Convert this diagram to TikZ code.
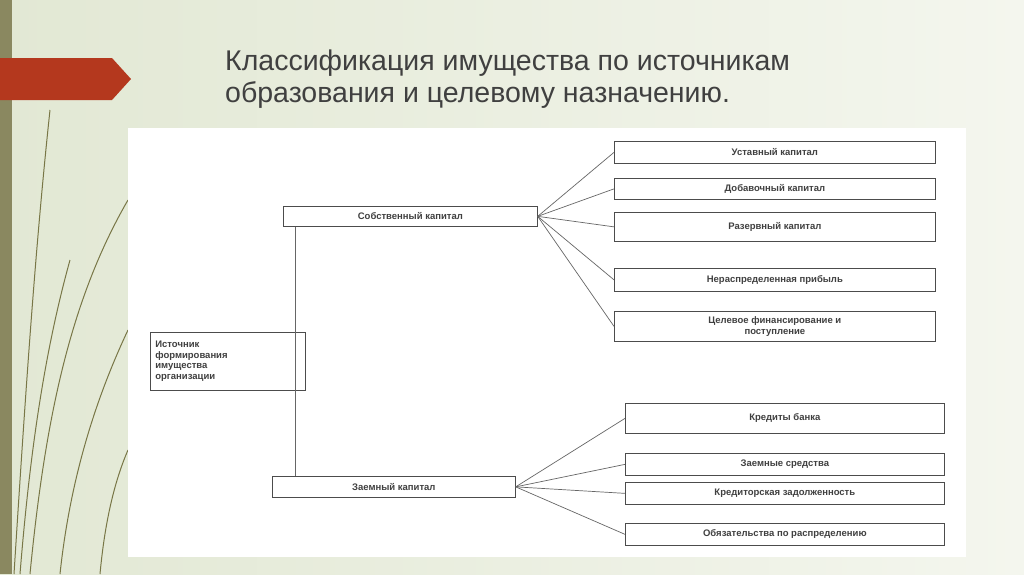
\documentclass[tikz,border=0pt]{standalone}
\usepackage{fontspec}
\setmainfont{Liberation Sans}
\begin{document}
\begin{tikzpicture}[x=1pt,y=-1pt,
  bx/.style={draw=black!70,line width=0.7pt,fill=white,inner sep=0pt,font=\fontsize{9.5}{10.5}\selectfont\bfseries,text=black!75,align=center},
  ln/.style={draw=black!60,line width=0.7pt},
  deco/.style={color={rgb,255:red,120;green,118;blue,70},line width=1pt}]
\useasboundingbox (0,0) rectangle (1024,574);
\shade[left color={rgb,255:red,226;green,232;blue,212},right color={rgb,255:red,244;green,246;blue,238}] (0,0) rectangle (1024,574);
\fill[color={rgb,255:red,138;green,136;blue,96}] (0,0) rectangle (12,574);
\draw[deco] (14,574) .. controls (25,400) and (35,250) .. (50,110);
\draw[deco] (30,574) .. controls (45,420) and (70,300) .. (128,200);
\draw[deco] (60,574) .. controls (70,480) and (95,400) .. (128,330);
\draw[deco] (100,574) .. controls (105,520) and (115,480) .. (128,450);
\draw[deco] (20,574) .. controls (30,450) and (45,350) .. (70,260);
\fill[color={rgb,255:red,180;green,56;blue,30}] (0,58) -- (112,58) -- (131,79) -- (112,100) -- (0,100) -- cycle;
\node[anchor=north west,align=left,font=\fontsize{28.5}{32}\selectfont,text=black!75,inner sep=0pt] (title) at (225,50) {Классификация имущества по источникам\\образования и целевому назначению.};
\fill[white] (128,128) rectangle (966,557);
\node[bx,minimum width=155pt,minimum height=58pt,align=left,text width=145pt,anchor=north west] (src) at (150,332) {Источник\\формирования\\имущества\\организации};
\node[bx,minimum width=254pt,minimum height=20pt,anchor=north west] (own) at (283,206) {Собственный капитал};
\node[bx,minimum width=243pt,minimum height=21pt,anchor=north west] (debt) at (272,476) {Заемный капитал};
\draw[ln] (own.south west)++(12,0) coordinate (v1) -- (v1|-debt.north) coordinate (v2);
\foreach \n/\t/\y/\h in {r1/Уставный капитал/141/22,r2/Добавочный капитал/178/21,r3/Разервный капитал/212/29,r4/Нераспределенная прибыль/268/23}{
  \node[bx,minimum width=321pt,minimum height=\h pt,anchor=north west] (\n) at (614,\y) {\t};
  \draw[ln] (own.east) -- (\n.west);
}
\node[bx,minimum width=321pt,minimum height=30pt,anchor=north west] (r5) at (614,311) {Целевое финансирование и\\поступление};
\draw[ln] (own.east) -- (r5.west);
\foreach \n/\t/\y/\h in {d1/Кредиты банка/403/30,d2/Заемные средства/453/22,d3/Кредиторская задолженность/482/22,d4/Обязательства по распределению/523/22}{
  \node[bx,minimum width=319pt,minimum height=\h pt,anchor=north west] (\n) at (625,\y) {\t};
  \draw[ln] (debt.east) -- (\n.west);
}
\end{tikzpicture}
\end{document}
